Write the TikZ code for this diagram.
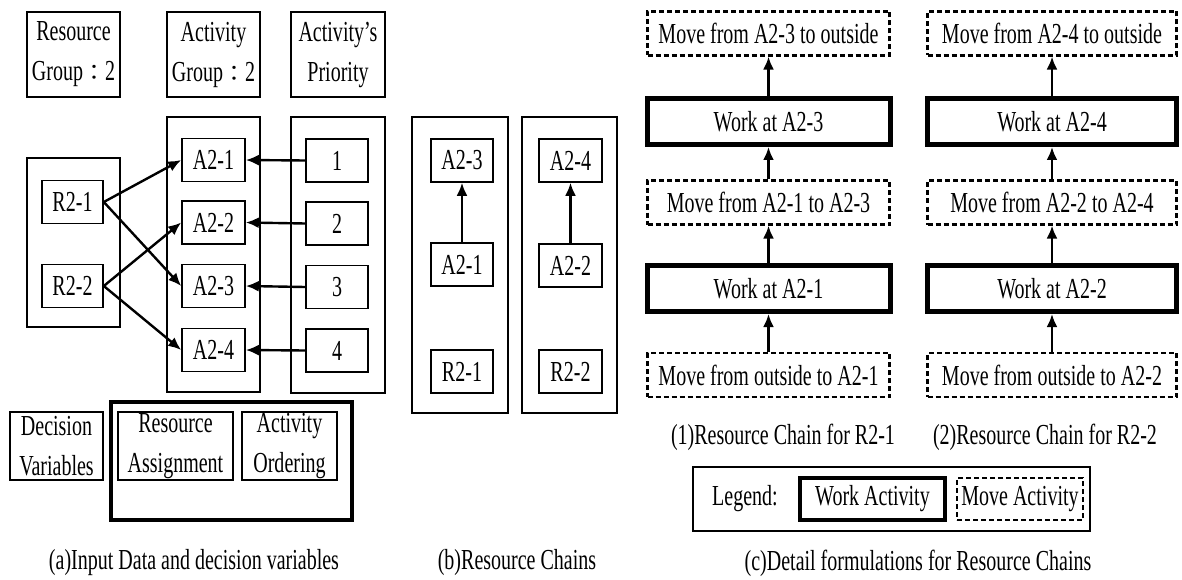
\documentclass[tikz,border=0pt]{standalone}
\usepackage{fontspec}
\setmainfont[FakeStretch=0.69]{Liberation Serif}
\newfontfamily\cjk{Noto Sans CJK TC}
\newcommand{\fwcolon}{{\cjk\fontsize{22pt}{22pt}\selectfont ：}}
\usetikzlibrary{arrows.meta}
\tikzset{
  txt/.style={font=\fontsize{29pt}{40pt}\selectfont, inner sep=0pt, align=center},
  hdr/.style={txt, draw, line width=1.4pt, minimum height=85pt},
  inbox/.style={txt, draw, line width=1.6pt, minimum height=43pt},
  cont/.style={draw, line width=2.6pt, inner sep=0pt},
  thickcont/.style={draw, line width=4.5pt, inner sep=0pt},
  workbox/.style={txt, draw, line width=5pt, minimum height=46pt},
  movebox/.style={txt, draw, line width=2.2pt, dash pattern=on 5pt off 3pt, minimum height=44pt},
  arr/.style={line width=2.4pt, -{Latex[length=13pt,width=11pt]}},
}
\begin{document}
\begin{tikzpicture}[x=1pt,y=-1pt]
\useasboundingbox (0,0) rectangle (1182,580);
% ---------- (a) ----------
\node[hdr, minimum width=93pt] (hres) at (73.5,54.5) {Resource\\Group\fwcolon 2};
\node[hdr, minimum width=93pt] (hact) at (213.5,54.5) {Activity\\Group\fwcolon 2};
\node[hdr, minimum width=94pt] (hpri) at (338,54.5) {Activity's\\Priority};

\node[cont, minimum width=93pt, minimum height=169pt] (rcol) at (73.5,242.5) {};
\node[cont, minimum width=93pt, minimum height=275pt] (acol) at (213.5,254.5) {};
\node[cont, minimum width=94pt, minimum height=276pt] (pcol) at (338,255) {};

\node[inbox, minimum width=61pt] (r1) at (72.5,202) {R2-1};
\node[inbox, minimum width=61pt] (r2) at (72.5,286) {R2-2};

\node[inbox, minimum width=63pt] (a1) at (213.5,160) {A2-1};
\node[inbox, minimum width=63pt] (a2) at (213.5,222.5) {A2-2};
\node[inbox, minimum width=63pt] (a3) at (213.5,286) {A2-3};
\node[inbox, minimum width=63pt] (a4) at (213.5,350) {A2-4};

\node[inbox, minimum width=62pt] (p1) at (337,160.5) {1};
\node[inbox, minimum width=62pt] (p2) at (337,223.5) {2};
\node[inbox, minimum width=62pt] (p3) at (337,287) {3};
\node[inbox, minimum width=62pt] (p4) at (337,350.5) {4};

\draw[arr] (r1.east) -- (a1.west);
\draw[arr] (r1.east) -- (a3.west);
\draw[arr] (r2.east) -- (a2.west);
\draw[arr] (r2.east) -- (a4.west);
\draw[arr] (p1.west) -- (a1.east);
\draw[arr] (p2.west) -- (a2.east);
\draw[arr] (p3.west) -- (a3.east);
\draw[arr] (p4.west) -- (a4.east);

\node[hdr, minimum width=93pt, minimum height=68pt] (dv) at (56.5,446) {Decision\\Variables};
\node[thickcont, minimum width=241pt, minimum height=118pt] (dvbox) at (231.5,461) {};
\node[hdr, minimum width=115pt, minimum height=68pt] (ra) at (175.5,446) {Resource\\Assignment};
\node[hdr, minimum width=95pt, minimum height=68pt] (ao) at (289.5,446) {Activity\\Ordering};

\node[txt] (capa) at (194,563) {(a)Input Data and decision variables};

% ---------- (b) ----------
\node[cont, minimum width=96pt, minimum height=296pt] (bcol1) at (460,265) {};
\node[cont, minimum width=95pt, minimum height=296pt] (bcol2) at (569.5,265) {};
\node[inbox, minimum width=62pt] (b13) at (462,160.5) {A2-3};
\node[inbox, minimum width=62pt] (b11) at (462,264.5) {A2-1};
\node[inbox, minimum width=62pt] (br1) at (462,371.5) {R2-1};
\node[inbox, minimum width=63pt] (b24) at (570.5,160.5) {A2-4};
\node[inbox, minimum width=63pt] (b22) at (570.5,265.5) {A2-2};
\node[inbox, minimum width=63pt] (br2) at (570.5,371.5) {R2-2};
\draw[arr] (b11.north) -- (b13.south);
\draw[arr] (b22.north) -- (b24.south);
\node[txt] (capb) at (517,563) {(b)Resource Chains};

% ---------- (c) ----------
\node[movebox, minimum width=242pt] (m13) at (768.5,33.5) {Move from A2-3 to outside};
\node[workbox, minimum width=243pt] (w13) at (768.5,121.5) {Work at A2-3};
\node[movebox, minimum width=242pt] (m12) at (768.5,202.5) {Move from A2-1 to A2-3};
\node[workbox, minimum width=243pt] (w12) at (768.5,288.5) {Work at A2-1};
\node[movebox, minimum width=242pt] (m11) at (768.5,375) {Move from outside to A2-1};
\draw[arr] (m11.north) -- (w12.south);
\draw[arr] (w12.north) -- (m12.south);
\draw[arr] (m12.north) -- (w13.south);
\draw[arr] (w13.north) -- (m13.south);

\node[movebox, minimum width=249pt] (m23) at (1052,33.5) {Move from A2-4 to outside};
\node[workbox, minimum width=249pt] (w23) at (1052,121.5) {Work at A2-4};
\node[movebox, minimum width=249pt] (m22) at (1052,202.5) {Move from A2-2 to A2-4};
\node[workbox, minimum width=249pt] (w22) at (1052,288.5) {Work at A2-2};
\node[movebox, minimum width=249pt] (m21) at (1052,375) {Move from outside to A2-2};
\draw[arr] (m21.north) -- (w22.south);
\draw[arr] (w22.north) -- (m22.south);
\draw[arr] (m22.north) -- (w23.south);
\draw[arr] (w23.north) -- (m23.south);

\node[txt] (cap1) at (783,437) {(1)Resource Chain for R2-1};
\node[txt] (cap2) at (1045,437) {(2)Resource Chain for R2-2};

\node[draw, line width=1.4pt, minimum width=397pt, minimum height=64pt, inner sep=0pt] (legend) at (891.5,499) {};
\node[txt] (legtxt) at (745,499) {Legend:};
\node[workbox, line width=4pt, minimum width=145pt, minimum height=42pt] (legw) at (872.5,499) {Work Activity};
\node[movebox, minimum width=126pt, minimum height=42pt] (legm) at (1020,499) {Move Activity};

\node[txt] (capc) at (918,563) {(c)Detail formulations for Resource Chains};
\end{tikzpicture}
\end{document}
